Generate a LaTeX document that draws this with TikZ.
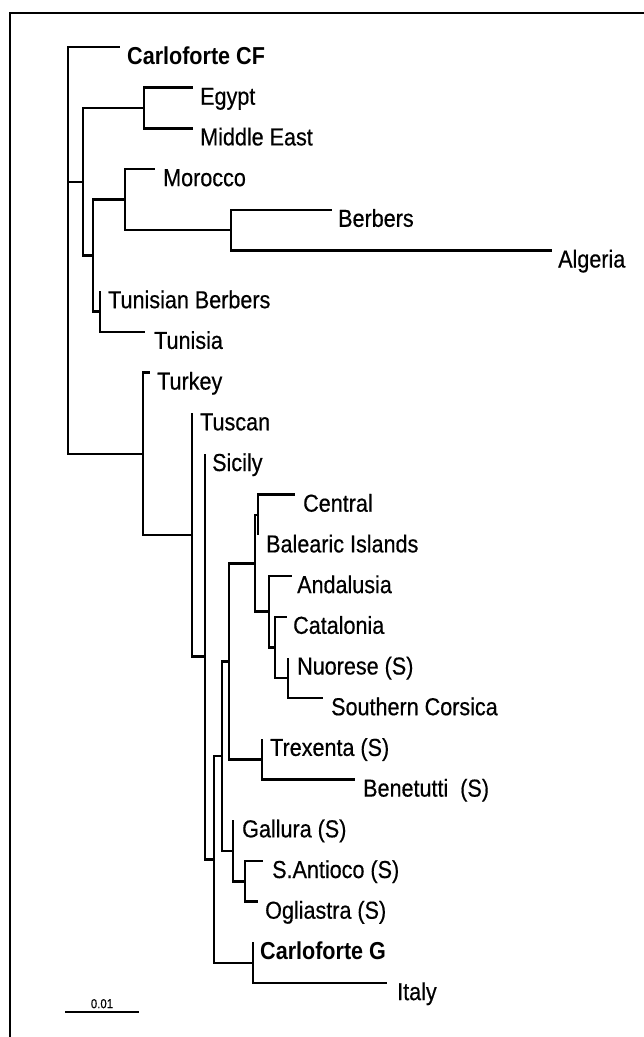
\documentclass[tikz,border=0pt]{standalone}
\usepackage{fontspec}
\setmainfont[FakeStretch=0.88,FakeBold=0.5]{Liberation Sans}
\newfontfamily\labbold[FakeStretch=0.88]{Liberation Sans Bold}
\begin{document}
\begin{tikzpicture}[x=1pt,y=-1pt,
  br/.style={line width=2.5pt, line join=miter},
  frame/.style={line width=2.6pt},
  lab/.style={anchor=base west, inner sep=0pt, font=\fontsize{24.5}{24.5}\selectfont},
  blab/.style={anchor=base west, inner sep=0pt, font=\fontsize{24.5}{24.5}\labbold},
  sclab/.style={anchor=south, inner sep=0pt, font=\fontsize{13}{13}\selectfont}]
\useasboundingbox (0,0) rectangle (644,1037);
% frame
\coordinate (fTL) at (10,13);
\coordinate (fTR) at (644,13);
\coordinate (fBL) at (10,1037);
\draw[frame] (fTR) -- (fTL) -- (fBL);
% leaves (branch ends)
\coordinate (CF)   at (120,47);
\coordinate (Egy)  at (193,87.7);
\coordinate (MEa)  at (193,128.4);
\coordinate (Mor)  at (155,169.1);
\coordinate (Ber)  at (332,209.8);
\coordinate (Alg)  at (552,250.5);
\coordinate (TBe)  at (100,291.2);
\coordinate (Tni)  at (145,331.9);
\coordinate (Tur)  at (150,372.6);
\coordinate (Tus)  at (192,413.3);
\coordinate (Sic)  at (205,454.0);
\coordinate (Cen)  at (295,494.7);
\coordinate (Bal)  at (258,535.4);
\coordinate (And)  at (292,576.1);
\coordinate (Cat)  at (287,616.8);
\coordinate (Nuo)  at (288,657.5);
\coordinate (SCo)  at (323,698.2);
\coordinate (Tre)  at (262,738.9);
\coordinate (Ben)  at (355,779.6);
\coordinate (Gal)  at (233,820.3);
\coordinate (SAn)  at (263,861.0);
\coordinate (Ogl)  at (258,901.7);
\coordinate (CaG)  at (253,942.4);
\coordinate (Ita)  at (387,983.1);
% internal nodes
\coordinate (nEM)  at (144,108.05);
\coordinate (nBA)  at (231,230.15);
\coordinate (nMB)  at (125,199.6);
\coordinate (nTu)  at (100,311.55);
\coordinate (nA2)  at (93,255.6);
\coordinate (nA1)  at (83,181.8);
\coordinate (nNu)  at (288,677.85);
\coordinate (nCa)  at (275,647.3);
\coordinate (nAn)  at (269,611.7);
\coordinate (nC1)  at (258,515.05);
\coordinate (nCN)  at (255,563.4);
\coordinate (nTr)  at (262,759.25);
\coordinate (nNC)  at (229,661.3);
\coordinate (nSA)  at (245,881.35);
\coordinate (nGa)  at (233,850.8);
\coordinate (nNB)  at (222,756.05);
\coordinate (nCG)  at (253,962.75);
\coordinate (nNA)  at (214,859.4);
\coordinate (nSN)  at (205,656.7);
\coordinate (nTS)  at (192,535.0);
\coordinate (nE1)  at (143,453.8);
\coordinate (nR)   at (68,250.4);
% branches
\draw[br] (nR) |- (CF);  \draw[br] (nR) |- (nA1); \draw[br] (nR) |- (nE1);
\draw[br] (nA1) |- (nEM); \draw[br] (nA1) |- (nA2);
\draw[br] (nEM) |- (Egy); \draw[br] (nEM) |- (MEa);
\draw[br] (nA2) |- (nMB); \draw[br] (nA2) |- (nTu);
\draw[br] (nMB) |- (Mor); \draw[br] (nMB) |- (nBA);
\draw[br] (nBA) |- (Ber); \draw[br] (nBA) |- (Alg);
\draw[br] (nTu) |- (TBe); \draw[br] (nTu) |- (Tni);
\draw[br] (nE1) |- (Tur); \draw[br] (nE1) |- (nTS);
\draw[br] (nTS) |- (Tus); \draw[br] (nTS) |- (nSN);
\draw[br] (nSN) |- (Sic); \draw[br] (nSN) |- (nNA);
\draw[br] (nNA) |- (nNB); \draw[br] (nNA) |- (nCG);
\draw[br] (nCG) |- (CaG); \draw[br] (nCG) |- (Ita);
\draw[br] (nNB) |- (nNC); \draw[br] (nNB) |- (nGa);
\draw[br] (nNC) |- (nCN); \draw[br] (nNC) |- (nTr);
\draw[br] (nCN) |- (nC1); \draw[br] (nCN) |- (nAn);
\draw[br] (nC1) |- (Cen); \draw[br] (nC1) |- (Bal);
\draw[br] (nAn) |- (And); \draw[br] (nAn) |- (nCa);
\draw[br] (nCa) |- (Cat); \draw[br] (nCa) |- (nNu);
\draw[br] (nNu) |- (Nuo); \draw[br] (nNu) |- (SCo);
\draw[br] (nTr) |- (Tre); \draw[br] (nTr) |- (Ben);
\draw[br] (nGa) |- (Gal); \draw[br] (nGa) |- (nSA);
\draw[br] (nSA) |- (SAn); \draw[br] (nSA) |- (Ogl);
% labels
\node[blab] (tCF)  at (127,64)  {Carloforte CF};
\node[lab]  (tEgy) at (200,104.7) {Egypt};
\node[lab]  (tMEa) at (200,145.4) {Middle East};
\node[lab]  (tMor) at (163,186.1) {Morocco};
\node[lab]  (tBer) at (338,226.8) {Berbers};
\node[lab]  (tAlg) at (558,267.5) {Algeria};
\node[lab]  (tTBe) at (108,308.2) {Tunisian Berbers};
\node[lab]  (tTni) at (154,348.9) {Tunisia};
\node[lab]  (tTur) at (157,389.6) {Turkey};
\node[lab]  (tTus) at (200,430.3) {Tuscan};
\node[lab]  (tSic) at (212,471.0) {Sicily};
\node[lab]  (tCen) at (303,511.7) {Central};
\node[lab]  (tBal) at (266,552.4) {Balearic Islands};
\node[lab]  (tAnd) at (297,593.1) {Andalusia};
\node[lab]  (tCat) at (293,633.8) {Catalonia};
\node[lab]  (tNuo) at (297,674.5) {Nuorese (S)};
\node[lab]  (tSCo) at (331,715.2) {Southern Corsica};
\node[lab]  (tTre) at (270,755.9) {Trexenta (S)};
\node[lab]  (tBen) at (363,796.6) {Benetutti\ \ (S)};
\node[lab]  (tGal) at (242,837.3) {Gallura (S)};
\node[lab]  (tSAn) at (272,878.0) {S.Antioco (S)};
\node[lab]  (tOgl) at (265,918.7) {Ogliastra (S)};
\node[blab] (tCaG) at (260,959.4) {Carloforte G};
\node[lab]  (tIta) at (397,1000.1) {Italy};
% scale bar
\coordinate (sbL) at (65,1012);
\coordinate (sbR) at (139,1012);
\draw[br] (sbL) -- (sbR);
\node[sclab] (tsb) at (102,1008.5) {0.01};
\end{tikzpicture}
\end{document}
